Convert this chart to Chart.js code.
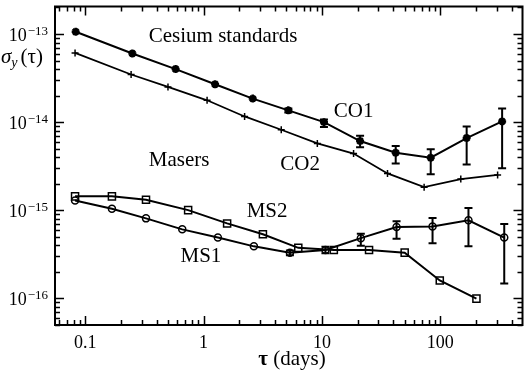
<!DOCTYPE html>
<html>
<head>
<meta charset="utf-8">
<script src="https://cdn.jsdelivr.net/npm/chart.js@4.4.0/dist/chart.umd.min.js"></script>
<style>
  html, body { margin: 0; padding: 0; background: #fff; }
  #wrap { width: 529px; height: 372px; }
</style>
</head>
<body>
<div id="wrap"><canvas id="chart"></canvas></div>
<script>
const SERIF = "'Liberation Serif', 'Times New Roman', serif";

// ── Data ───────────────────────────────────────────────
const xTickLabels = ['0.1', '1', '10', '100'];
const yTickExponents = [-13, -14, -15, -16];

const co1Tau   = [0.083, 0.25, 0.58, 1.25, 2.6, 5.2, 10.4, 21, 42, 83, 167, 333];
const co1Sigma = [1.06e-13, 6.0e-14, 4.0e-14, 2.69e-14, 1.85e-14, 1.36e-14, 1.0e-14, 6.1e-15, 4.5e-15, 3.95e-15, 6.6e-15, 1.02e-14];
const co1Lo    = [null, null, null, null, null, 1.29e-14, 0.88e-14, 5.2e-15, 3.4e-15, 2.57e-15, 3.3e-15, 3.0e-15];
const co1Hi    = [null, null, null, null, null, 1.43e-14, 1.07e-14, 7.0e-15, 5.36e-15, 4.92e-15, 8.95e-15, 1.43e-14];

const co2Tau   = [0.082, 0.244, 0.5, 1.07, 2.22, 4.53, 9.14, 18.5, 35.8, 73, 149, 305];
const co2Sigma = [6.1e-14, 3.47e-14, 2.51e-14, 1.77e-14, 1.16e-14, 8.2e-15, 5.73e-15, 4.4e-15, 2.62e-15, 1.83e-15, 2.26e-15, 2.52e-15];

const ms1Tau   = [0.082, 0.168, 0.326, 0.66, 1.32, 2.66, 5.36, 10.7, 21.3, 42.7, 86, 173, 347];
const ms1Sigma = [1.29e-15, 1.04e-15, 8.1e-16, 6.08e-16, 4.91e-16, 3.9e-16, 3.31e-16, 3.55e-16, 4.83e-16, 6.46e-16, 6.55e-16, 7.7e-16, 4.9e-16];
const ms1Lo    = [null, null, null, null, null, null, 3.1e-16, 3.25e-16, 3.96e-16, 4.77e-16, 4.24e-16, 3.9e-16, 1.48e-16];
const ms1Hi    = [null, null, null, null, null, null, 3.5e-16, 3.85e-16, 5.43e-16, 7.5e-16, 8.2e-16, 1.06e-15, 7.0e-16];

const ms2Tau   = [0.082, 0.168, 0.326, 0.74, 1.58, 3.17, 6.31, 12.6, 25, 50, 99, 202];
const ms2Sigma = [1.44e-15, 1.44e-15, 1.32e-15, 1.005e-15, 7.1e-16, 5.35e-16, 3.75e-16, 3.55e-16, 3.55e-16, 3.31e-16, 1.6e-16, 9.95e-17];

const pts = (xs, ys) => xs.map((x, i) => ({ x, y: ys[i] }));

// ── Error bars ─────────────────────────────────────────
const errorBars = {
  id: 'errorBars',
  afterDatasetsDraw(chart) {
    const { ctx, scales: { x, y } } = chart;
    ctx.save();
    ctx.strokeStyle = '#000';
    ctx.lineWidth = 2;
    chart.data.datasets.forEach(ds => {
      if (!ds.errLo) return;
      ds.data.forEach((p, i) => {
        const lo = ds.errLo[i], hi = ds.errHi[i];
        if (lo == null) return;
        const px = x.getPixelForValue(p.x);
        const y0 = y.getPixelForValue(lo), y1 = y.getPixelForValue(hi);
        ctx.beginPath();
        ctx.moveTo(px, y0); ctx.lineTo(px, y1);
        ctx.moveTo(px - 4, y0); ctx.lineTo(px + 4, y0);
        ctx.moveTo(px - 4, y1); ctx.lineTo(px + 4, y1);
        ctx.stroke();
      });
    });
    ctx.restore();
  },
};

// ── Frame, inward log ticks, labels ───────────────────
function logTickValues(scale) {
  const out = [];
  const lo = Math.floor(Math.log10(scale.min)), hi = Math.ceil(Math.log10(scale.max));
  for (let d = lo; d <= hi; d++) {
    for (let m = 1; m <= 9; m++) {
      const v = m * Math.pow(10, d);
      if (v >= scale.min && v <= scale.max) out.push({ v, major: m === 1 });
    }
  }
  return out;
}

const frame = {
  id: 'frame',
  afterDraw(chart, args, opts) {
    const { ctx, chartArea: a, scales: { x, y } } = chart;
    ctx.save();
    ctx.strokeStyle = '#000';
    ctx.lineWidth = 1.5;
    ctx.beginPath();
    logTickValues(x).forEach(t => {
      const p = Math.round(x.getPixelForValue(t.v)) + 0.5;
      const len = t.major ? 9 : 5;
      ctx.moveTo(p, a.bottom); ctx.lineTo(p, a.bottom - len);
      ctx.moveTo(p, a.top); ctx.lineTo(p, a.top + len);
    });
    logTickValues(y).forEach(t => {
      const p = Math.round(y.getPixelForValue(t.v)) + 0.5;
      const len = t.major ? 9 : 5;
      ctx.moveTo(a.left, p); ctx.lineTo(a.left + len, p);
      ctx.moveTo(a.right, p); ctx.lineTo(a.right - len, p);
    });
    ctx.stroke();
    ctx.lineWidth = 2;
    ctx.strokeRect(a.left, a.top, a.right - a.left, a.bottom - a.top);

    ctx.fillStyle = '#000';
    // x tick labels
    ctx.font = '18px ' + SERIF;
    ctx.textAlign = 'center';
    ctx.textBaseline = 'alphabetic';
    xTickLabels.forEach(l => {
      ctx.fillText(l, x.getPixelForValue(parseFloat(l)), a.bottom + 23);
    });
    // y tick labels 10^n
    yTickExponents.forEach(e => {
      const py = y.getPixelForValue(Math.pow(10, e));
      const sup = '\u2212' + Math.abs(e);
      ctx.font = '13px ' + SERIF;
      const supW = ctx.measureText(sup).width;
      const baseX = a.left - 8 - supW;
      ctx.textAlign = 'left';
      ctx.fillText(sup, baseX + 1, py + 1);
      ctx.font = '18px ' + SERIF;
      ctx.textAlign = 'right';
      ctx.fillText('10', baseX, py + 7);
    });
    // y title: sigma_y (tau)
    ctx.textAlign = 'left';
    ctx.font = 'italic 21px ' + SERIF;
    ctx.fillText('\u03c3', 1, 63);
    let tx = 1 + ctx.measureText('\u03c3').width;
    ctx.font = 'italic 14px ' + SERIF;
    ctx.fillText('y', tx, 67);
    tx += ctx.measureText('y').width + 3;
    ctx.font = '21px ' + SERIF;
    ctx.fillText('(\u03c4)', tx, 63);
    // x title: tau (days)
    ctx.font = 'bold 21px ' + SERIF;
    const tauW = ctx.measureText('\u03c4').width;
    ctx.font = '21px ' + SERIF;
    const restW = ctx.measureText(' (days)').width;
    const startX = 292 - (tauW + restW) / 2;
    ctx.font = 'bold 21px ' + SERIF;
    ctx.fillText('\u03c4', startX, 365);
    ctx.font = '21px ' + SERIF;
    ctx.fillText(' (days)', startX + tauW, 365);
    // annotations
    ctx.font = '21px ' + SERIF;
    ctx.textBaseline = 'middle';
    opts.notes.forEach(n => {
      ctx.fillText(n.text, x.getPixelForValue(n.tau), y.getPixelForValue(n.sigma));
    });
    ctx.restore();
  },
};

const line = { showLine: true, borderColor: '#000', borderWidth: 2, tension: 0,
  pointBorderColor: '#000', pointHoverRadius: 0 };

new Chart(document.getElementById('chart'), {
  type: 'scatter',
  data: {
    datasets: [
      { ...line, label: 'CO1', data: pts(co1Tau, co1Sigma), errLo: co1Lo, errHi: co1Hi,
        pointStyle: 'star', pointRadius: 4, pointBorderWidth: 2.5, pointBackgroundColor: '#000' },
      { ...line, label: 'CO2', data: pts(co2Tau, co2Sigma), borderWidth: 1.8,
        pointStyle: 'cross', pointRadius: 3.5, pointBorderWidth: 1.5 },
      { ...line, label: 'MS1', data: pts(ms1Tau, ms1Sigma), errLo: ms1Lo, errHi: ms1Hi,
        pointStyle: 'circle', pointRadius: 3.5, pointBorderWidth: 1.5, pointBackgroundColor: 'rgba(0,0,0,0)' },
      { ...line, label: 'MS2', data: pts(ms2Tau, ms2Sigma),
        pointStyle: 'rect', pointRadius: 5, pointBorderWidth: 1.5, pointBackgroundColor: 'rgba(0,0,0,0)' },
    ],
  },
  options: {
    responsive: true,
    maintainAspectRatio: false,
    animation: false,
    layout: { padding: { top: 1, right: 1, left: 0, bottom: 0 } },
    plugins: {
      legend: { display: false },
      tooltip: { enabled: false },
      frame: {
        notes: [
          { text: 'Cesium standards', tau: 0.344, sigma: 9.26e-14 },
          { text: 'CO1', tau: 12.6, sigma: 1.325e-14 },
          { text: 'CO2', tau: 4.45, sigma: 3.33e-15 },
          { text: 'Masers', tau: 0.344, sigma: 3.69e-15 },
          { text: 'MS2', tau: 2.31, sigma: 9.75e-16 },
          { text: 'MS1', tau: 0.638, sigma: 3.0e-16 },
        ],
      },
    },
    scales: {
      x: {
        type: 'logarithmic', position: 'bottom', min: 0.0555, max: 495,
        grid: { display: false, drawTicks: false }, border: { display: false },
        ticks: { display: false },
        afterFit(s) { s.height = 47; },
      },
      y: {
        type: 'logarithmic', position: 'left', min: 5.15e-17, max: 2.05e-13,
        grid: { display: false, drawTicks: false }, border: { display: false },
        ticks: { display: false },
        afterFit(s) { s.width = 55; },
      },
    },
  },
  plugins: [errorBars, frame],
});
</script>
</body>
</html>
